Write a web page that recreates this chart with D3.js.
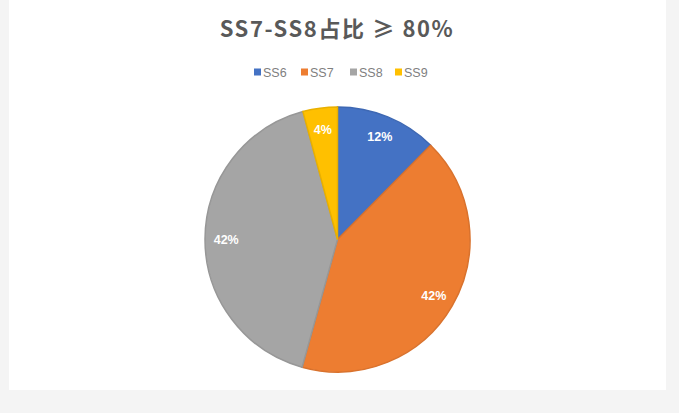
<!DOCTYPE html>
<html>
<head>
<meta charset="utf-8">
<script src="https://cdn.jsdelivr.net/npm/d3@7"></script>
<style>
  body { margin: 0; background: #f4f4f4; }
  svg { display: block; }
</style>
</head>
<body>
<div id="chart"></div>
<script>
var categories = ["SS6", "SS7", "SS8", "SS9"];
var shares = [12.4, 41.9, 41.5, 4.2];
var labels = ["12%", "42%", "42%", "4%"];
var colors = ["#4472C4", "#ED7D31", "#A5A5A5", "#FFC000"];
var title = "SS7-SS8占比 ≥ 80%";

var svgWidth = 679;
var svgHeight = 413;

var svg = d3.select("#chart")
  .append("svg")
  .attr("width", svgWidth)
  .attr("height", svgHeight);

// white chart panel on the grey page
svg.append("rect")
  .attr("x", 9)
  .attr("y", 0)
  .attr("width", 657)
  .attr("height", 390)
  .attr("fill", "#ffffff");

svg.append("text")
  .attr("x", 337)
  .attr("y", 37)
  .attr("text-anchor", "middle")
  .attr("font-family", "'Noto Sans CJK SC', 'Noto Sans', sans-serif")
  .attr("font-size", 22)
  .attr("font-weight", "bold")
  .attr("letter-spacing", 1.6)
  .attr("fill", "#595959")
  .text(title);

// legend
var legendX = [254, 301, 350, 395];
var legend = svg.selectAll(".legend")
  .data(categories)
  .enter()
  .append("g")
  .attr("class", "legend")
  .attr("transform", (d, i) => `translate(${legendX[i]}, 72)`);

legend.append("rect")
  .attr("x", 0)
  .attr("y", -3.5)
  .attr("width", 7)
  .attr("height", 7)
  .attr("fill", (d, i) => colors[i]);

legend.append("text")
  .attr("x", 9)
  .attr("y", 4.5)
  .attr("font-family", "'Liberation Sans', Arial, sans-serif")
  .attr("font-size", 12.5)
  .attr("fill", "#7f7f7f")
  .text(d => d);

// pie
var cx = 337.5, cy = 239.5, radius = 132.5;

var pie = d3.pie().sort(null).value(d => d);
var arc = d3.arc().innerRadius(0).outerRadius(radius);
var labelArc = d3.arc().innerRadius(radius * 0.84).outerRadius(radius * 0.84);

var pieGroup = svg.append("g")
  .attr("transform", `translate(${cx}, ${cy})`);

var slices = pieGroup.selectAll(".slice")
  .data(pie(shares))
  .enter()
  .append("g")
  .attr("class", "slice");

slices.append("path")
  .attr("d", arc)
  .attr("fill", (d, i) => colors[i])
  .attr("stroke", (d, i) => d3.color(colors[i]).darker(0.25))
  .attr("stroke-width", 1.5);

slices.append("text")
  .attr("transform", d => `translate(${labelArc.centroid(d)})`)
  .attr("text-anchor", "middle")
  .attr("dy", "0.35em")
  .attr("font-family", "'Liberation Sans', Arial, sans-serif")
  .attr("font-size", 12.5)
  .attr("font-weight", "bold")
  .attr("fill", "#ffffff")
  .text((d, i) => labels[i]);
</script>
</body>
</html>
